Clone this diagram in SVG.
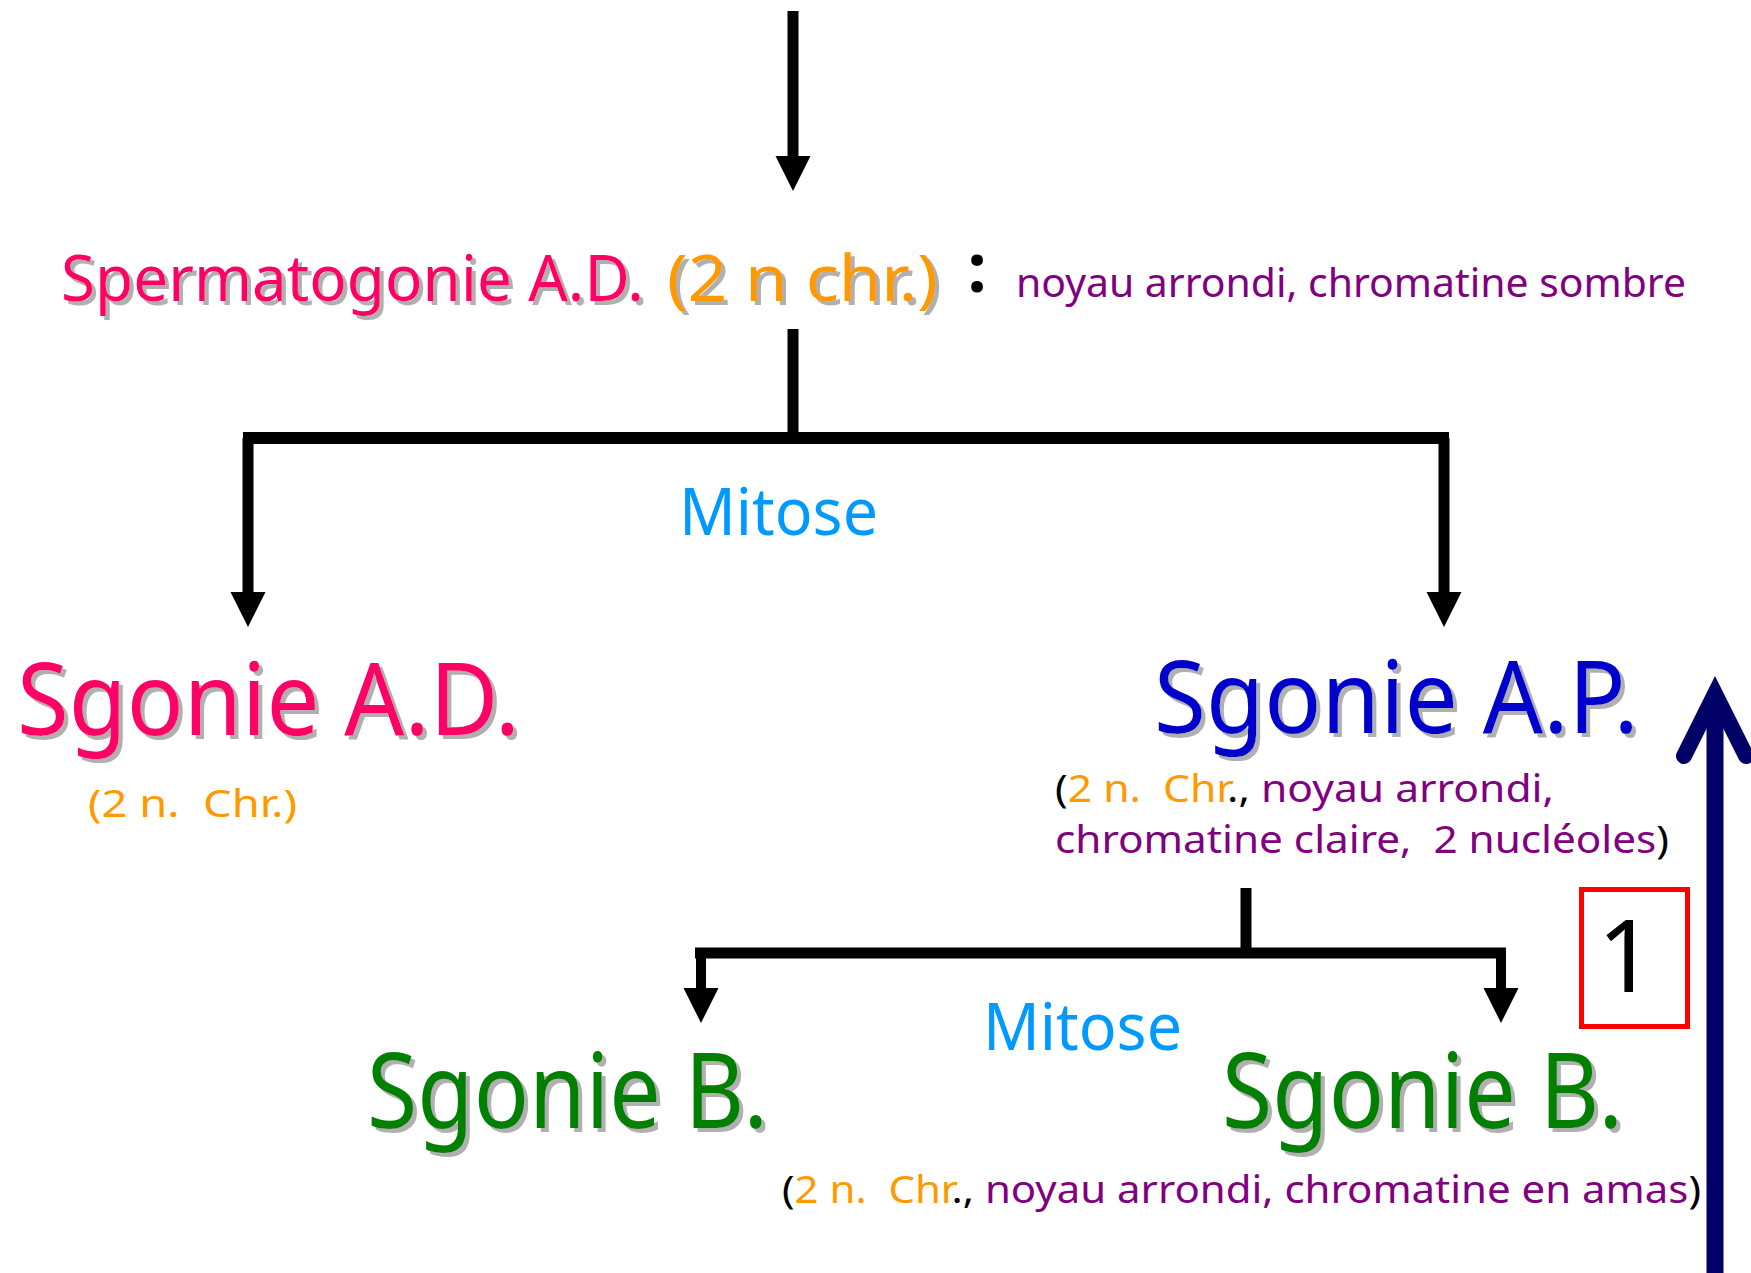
<svg xmlns="http://www.w3.org/2000/svg" width="1751" height="1273" viewBox="0 0 1751 1273">
<style>
text{font-family:"Noto Sans","DejaVu Sans",sans-serif;white-space:pre}
.pink{fill:#FF0066}.orange{fill:#FF9900}.purple{fill:#800080}.mit{fill:#0099FF}
.ap{fill:#0000CC}.green{fill:#008000}.blk{fill:#000}
.big{font-size:100px}.small{font-size:38px}
.sh{filter:url(#shadow)}
.conn{stroke:#000;fill:none;stroke-linecap:butt}
</style>
<defs>
<filter id="shadow" x="-5%" y="-10%" width="115%" height="130%">
<feDropShadow dx="4" dy="4" stdDeviation="0.6" flood-color="#b0b0b0" flood-opacity="1"/>
</filter>
<marker id="ah" markerUnits="userSpaceOnUse" markerWidth="36" markerHeight="36" refX="0" refY="17.5" orient="auto" viewBox="0 0 36 36">
<path d="M0,0 L35,17.5 L0,35 Z" fill="#000"/>
</marker>
</defs>
<rect width="1751" height="1273" fill="#fff"/>
<g id="connectors">
<path class="conn" stroke-width="11" d="M793,11 V156" marker-end="url(#ah)"/>
<path class="conn" stroke-width="11" d="M793,329 V438"/>
<path class="conn" stroke-width="12" d="M243,438 H1449"/>
<path class="conn" stroke-width="11" d="M248,438 V592" marker-end="url(#ah)"/>
<path class="conn" stroke-width="11" d="M1444,438 V592" marker-end="url(#ah)"/>
<path class="conn" stroke-width="11" d="M1246,888 V953"/>
<path class="conn" stroke-width="11" d="M695,953 H1506"/>
<path class="conn" stroke-width="10" d="M701,953 V988" marker-end="url(#ah)"/>
<path class="conn" stroke-width="10" d="M1501,953 V988" marker-end="url(#ah)"/>
<g id="return-arrow">
<path d="M1715,1273 V702" stroke="#000066" stroke-width="17" fill="none"/>
<path d="M1684,756 L1715,694 L1746,756" stroke="#000066" stroke-width="16" fill="none" stroke-linecap="round" stroke-linejoin="miter"/>
</g>
</g>
<g id="node-spermatogonie-ad">
<text class="pink sh" x="61" y="301" font-size="64" textLength="583" lengthAdjust="spacingAndGlyphs">Spermatogonie A.D.</text>
<text class="orange sh" x="667" y="301" font-size="64" textLength="271" lengthAdjust="spacingAndGlyphs">(2 n chr.)</text>
<text class="blk" x="977" y="292" font-size="68" font-weight="bold" text-anchor="middle">:</text>
<text class="purple" x="1016" y="297" font-size="40" textLength="670" lengthAdjust="spacingAndGlyphs">noyau arrondi, chromatine sombre</text>
</g>
<g id="label-mitose-1">
<text class="mit" x="679" y="535" font-size="66" textLength="199" lengthAdjust="spacingAndGlyphs">Mitose</text>
</g>
<g id="node-sgonie-ad">
<text class="pink big sh" x="17" y="735" textLength="503" lengthAdjust="spacingAndGlyphs">Sgonie A.D.</text>
<text class="orange small" x="88" y="817" textLength="209" lengthAdjust="spacingAndGlyphs">(2 n.  Chr.)</text>
</g>
<g id="node-sgonie-ap">
<text class="ap big sh" x="1154" y="733" textLength="485" lengthAdjust="spacingAndGlyphs">Sgonie A.P.</text>
<text class="small" x="1055" y="802" textLength="499" lengthAdjust="spacingAndGlyphs"><tspan class="blk">(</tspan><tspan class="orange">2 n.  Chr</tspan><tspan class="blk">.,</tspan><tspan class="purple"> noyau arrondi,</tspan></text>
<text class="small" x="1055" y="853" textLength="614" lengthAdjust="spacingAndGlyphs"><tspan class="purple">chromatine claire,  2 nucléoles</tspan><tspan class="blk">)</tspan></text>
</g>
<g id="label-mitose-2">
<text class="mit" x="983" y="1050" font-size="66" textLength="199" lengthAdjust="spacingAndGlyphs">Mitose</text>
</g>
<g id="node-sgonie-b-left">
<text class="green sh" x="367" y="1128" font-size="104" textLength="401" lengthAdjust="spacingAndGlyphs">Sgonie B.</text>
</g>
<g id="node-sgonie-b-right">
<text class="green sh" x="1222" y="1128" font-size="104" textLength="401" lengthAdjust="spacingAndGlyphs">Sgonie B.</text>
<text class="small" x="782" y="1203" textLength="919" lengthAdjust="spacingAndGlyphs"><tspan class="blk">(</tspan><tspan class="orange">2 n.  Chr</tspan><tspan class="blk">.,</tspan><tspan class="purple"> noyau arrondi, chromatine en amas</tspan><tspan class="blk">)</tspan></text>
</g>
<g id="box-1">
<rect x="1581.5" y="889.5" width="106" height="137" fill="none" stroke="#FF0000" stroke-width="5"/>
<text class="blk" x="1626" y="992" font-size="100" text-anchor="middle">1</text>
</g>
</svg>
